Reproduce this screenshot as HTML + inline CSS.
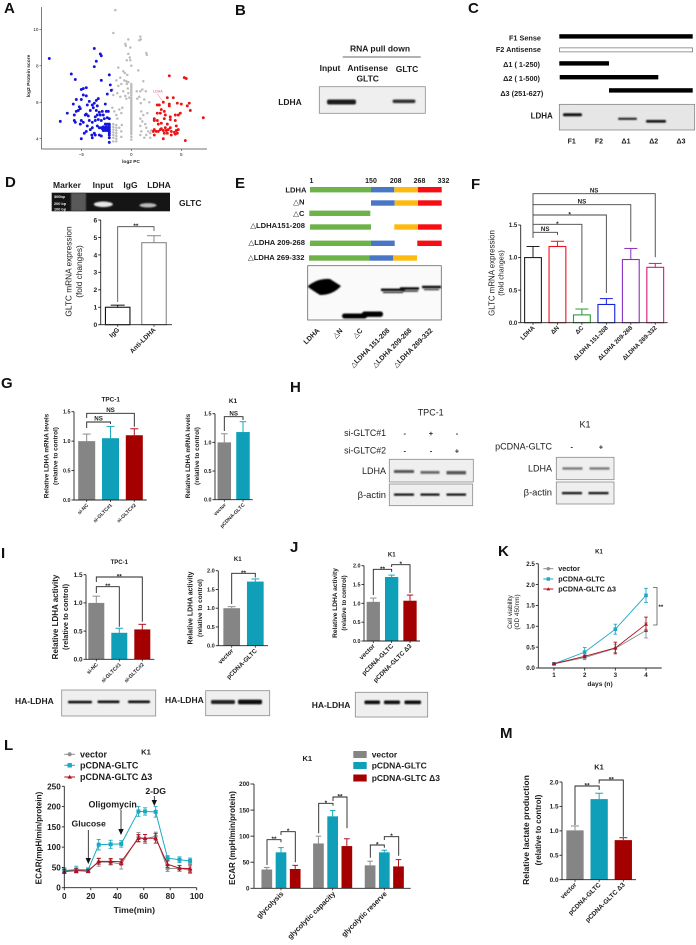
<!DOCTYPE html>
<html lang="en"><head><meta charset="utf-8"><title>GLTC LDHA multi-panel figure</title>
<style>
html,body{margin:0;padding:0;background:#fff}
svg{display:block;filter:blur(.38px)}
text{font-family:"Liberation Sans","DejaVu Sans",sans-serif;fill:#1c1c1c}
.b{font-weight:700}
.pl{font-weight:700;font-size:15px;fill:#111}
.m{text-anchor:middle}
.e{text-anchor:end}
.lab{font-size:8.5px;font-weight:700}
.bl{fill:#efefef;stroke:#8b8b8b;stroke-width:.8}
</style></head><body>
<svg id="figure" xmlns="http://www.w3.org/2000/svg" width="696" height="945" viewBox="0 0 696 945">
<defs>
<filter id="s1" x="-30%" y="-100%" width="160%" height="300%"><feGaussianBlur stdDeviation=".7"/></filter>
<filter id="s2" x="-30%" y="-100%" width="160%" height="300%"><feGaussianBlur stdDeviation="1.2"/></filter>
</defs>
<rect width="696" height="945" fill="#fff"/>

<!-- panel letters -->
<g>
<text class="pl" x="4" y="13">A</text>
<text class="pl" x="235" y="15">B</text>
<text class="pl" x="468" y="13">C</text>
<text class="pl" x="5" y="187">D</text>
<text class="pl" x="235" y="188">E</text>
<text class="pl" x="471" y="189">F</text>
<text class="pl" x="1" y="388">G</text>
<text class="pl" x="290" y="392">H</text>
<text class="pl" x="1" y="558">I</text>
<text class="pl" x="290" y="552">J</text>
<text class="pl" x="498" y="556">K</text>
<text class="pl" x="4" y="750">L</text>
<text class="pl" x="500" y="738">M</text>
</g>

<!-- A labels -->
<g>
<text class="b m" x="131" y="163" font-size="4.8">log2 PC</text>
<text class="b m" x="0" y="0" font-size="4.9" transform="translate(30 76) rotate(-90)">log2 Protein score</text>
<text x="153" y="92.5" font-size="3.6" style="fill:#e0506a">LDHA</text>
<line x1="157" y1="93.5" x2="163" y2="102" stroke="#e0506a" stroke-width=".4"/>
</g>

<!-- B -->
<g>
<text class="lab m" x="380" y="51.5">RNA pull down</text>
<line x1="342.7" x2="420.7" y1="57" y2="57" stroke="#333" stroke-width=".8"/>
<text class="lab m" x="330" y="71">Input</text>
<text class="lab m" x="367.7" y="71">Antisense</text>
<text class="lab m" x="367.7" y="81.5">GLTC</text>
<text class="lab m" x="407" y="72">GLTC</text>
<text class="lab m" x="290" y="105">LDHA</text>
<rect class="bl" x="319.3" y="86.7" width="106" height="26.6"/>
<rect x="327" y="99.5" width="29" height="5" rx="2" fill="#1a1a1a" filter="url(#s1)"/>
<rect x="392.5" y="99.5" width="23" height="3.6" rx="2" fill="#333" filter="url(#s1)"/>
</g>

<!-- C -->
<g>
<text class="b e" x="541" y="40.5" font-size="7.3">F1 Sense</text>
<text class="b e" x="541" y="52" font-size="7.3">F2 Antisense</text>
<text class="b e" x="540" y="67" font-size="7.3">Δ1 ( 1-250)</text>
<text class="b e" x="540" y="81" font-size="7.3">Δ2 ( 1-500)</text>
<text class="b e" x="543.3" y="96" font-size="7.3">Δ3 (251-627)</text>
<rect x="559.3" y="34.2" width="133.4" height="4.4" fill="#000"/>
<rect x="559.6" y="47.9" width="133" height="4" fill="#fff" stroke="#555" stroke-width=".6"/>
<rect x="559.3" y="61.2" width="49.7" height="4.4" fill="#000"/>
<rect x="559.7" y="75" width="98.6" height="4.4" fill="#000"/>
<rect x="609" y="88.2" width="83.7" height="4.4" fill="#000"/>
<text class="b m" x="541.7" y="118.5" font-size="8">LDHA</text>
<rect x="559.3" y="104.3" width="135.4" height="25.7" fill="#e6e6e6" stroke="#777" stroke-width=".7"/>
<rect x="563" y="113.3" width="19" height="3" rx="1.2" fill="#111" filter="url(#s1)"/>
<rect x="618" y="117.7" width="19" height="2.2" rx="1" fill="#222" filter="url(#s1)"/>
<rect x="646" y="120" width="20" height="2.6" rx="1" fill="#111" filter="url(#s1)"/>
<text class="b m" x="571.7" y="143.5" font-size="7">F1</text>
<text class="b m" x="599" y="143.5" font-size="7">F2</text>
<text class="b m" x="626" y="143.5" font-size="7">Δ1</text>
<text class="b m" x="653.7" y="143.5" font-size="7">Δ2</text>
<text class="b m" x="681" y="143.5" font-size="7">Δ3</text>
</g>

<!-- D gel and labels -->
<g>
<text class="lab m" x="67" y="188">Marker</text>
<text class="lab m" x="103" y="188">Input</text>
<text class="lab m" x="130.5" y="188">IgG</text>
<text class="lab m" x="159" y="188">LDHA</text>
<rect x="51.7" y="192.7" width="118.3" height="18.6" fill="#151515"/>
<rect x="71" y="193" width="15" height="18" fill="#777" filter="url(#s1)" opacity=".7"/>
<ellipse cx="103.3" cy="204.3" rx="9.5" ry="2.8" fill="#e8e8e8" filter="url(#s1)"/>
<ellipse cx="148" cy="205.3" rx="8.5" ry="2.2" fill="#bbb" filter="url(#s1)"/>
<text class="b" x="54" y="198" font-size="3.8" style="fill:#eee">300bp</text>
<text class="b" x="54" y="205" font-size="3.8" style="fill:#eee">200 bp</text>
<text class="b" x="54" y="210.5" font-size="3.8" style="fill:#eee">100 bp</text>
<text class="lab" x="179" y="206">GLTC</text>
<text class="m" x="0" y="0" font-size="8.3" transform="translate(71.5 271.5) rotate(-90)">GLTC mRNA expression</text>
<text class="m" x="0" y="0" font-size="8.3" transform="translate(82 271.5) rotate(-90)">(fold changes)</text>
</g>

<!-- E -->
<g>
<text class="b" x="309.5" y="183" font-size="7">1</text>
<text class="b m" x="371" y="183" font-size="7">150</text>
<text class="b m" x="395.7" y="183" font-size="7">208</text>
<text class="b m" x="419.5" y="183" font-size="7">268</text>
<text class="b m" x="443.5" y="183" font-size="7">332</text>
<text class="b e" x="306.5" y="192.5" font-size="7.6">LDHA</text>
<text class="b e" x="304.5" y="204.5" font-size="7.6">△N</text>
<text class="b e" x="304.5" y="216" font-size="7.6">△C</text>
<text class="b e" x="305" y="228" font-size="7.6">△LDHA151-208</text>
<text class="b e" x="305" y="245" font-size="7.6">△LDHA 209-268</text>
<text class="b e" x="304.5" y="260" font-size="7.6">△LDHA 269-332</text>
<g>
<rect x="310" y="187" width="61" height="5.4" fill="#6eb24a"/><rect x="371" y="187" width="23.3" height="5.4" fill="#4a76c6"/><rect x="394.3" y="187" width="23.7" height="5.4" fill="#fdbb12"/><rect x="418" y="187" width="23.7" height="5.4" fill="#f70d12"/>
<rect x="371" y="200.3" width="23.7" height="5.4" fill="#4a76c6"/><rect x="394.7" y="200.3" width="23.3" height="5.4" fill="#fdbb12"/><rect x="418" y="200.3" width="23.7" height="5.4" fill="#f70d12"/>
<rect x="309.3" y="210.6" width="61" height="5.4" fill="#6eb24a"/>
<rect x="310" y="224.3" width="61" height="5.4" fill="#6eb24a"/><rect x="394.3" y="224.3" width="23.7" height="5.4" fill="#fdbb12"/><rect x="418" y="224.3" width="23.7" height="5.4" fill="#f70d12"/>
<rect x="310" y="240.6" width="61" height="5.4" fill="#6eb24a"/><rect x="371" y="240.6" width="23.7" height="5.4" fill="#4a76c6"/><rect x="417.3" y="240.6" width="24.4" height="5.4" fill="#f70d12"/>
<rect x="309" y="255.3" width="60.3" height="5.4" fill="#6eb24a"/><rect x="369.3" y="255.3" width="24" height="5.4" fill="#4a76c6"/><rect x="393.3" y="255.3" width="23.7" height="5.4" fill="#fdbb12"/>
</g>
<rect x="307.7" y="265.7" width="133.6" height="54.3" fill="#fafafa" stroke="#666" stroke-width=".8"/>
<path d="M308 286 Q318 278 330 279 L341 286 Q333 295 320 295 Q312 290 308 287Z" fill="#000" filter="url(#s1)"/>
<rect x="342" y="313.5" width="25" height="5" rx="2.5" fill="#000" filter="url(#s1)"/>
<rect x="362" y="311.5" width="21" height="5.4" rx="2.5" fill="#000" filter="url(#s1)"/>
<rect x="381" y="288.6" width="24" height="2.4" fill="#000" filter="url(#s1)"/>
<rect x="383" y="291.5" width="20" height="1.6" fill="#333" filter="url(#s1)"/>
<rect x="400" y="287.3" width="19" height="2.4" fill="#000" filter="url(#s1)"/>
<rect x="402" y="290.2" width="16" height="1.6" fill="#333" filter="url(#s1)"/>
<rect x="422" y="285.8" width="19" height="2.4" fill="#000" filter="url(#s1)"/>
<rect x="424" y="288.8" width="15" height="1.4" fill="#333" filter="url(#s1)"/>
<text class="b e" x="0" y="0" font-size="7" transform="translate(320 331) rotate(-45)">LDHA</text>
<text class="b e" x="0" y="0" font-size="7" transform="translate(343 331) rotate(-45)">△N</text>
<text class="b e" x="0" y="0" font-size="7" transform="translate(363 331) rotate(-45)">△C</text>
<text class="b e" x="0" y="0" font-size="7" transform="translate(390 331) rotate(-45)">△LDHA 151-208</text>
<text class="b e" x="0" y="0" font-size="7" transform="translate(412 331) rotate(-45)">△LDHA 209-268</text>
<text class="b e" x="0" y="0" font-size="7" transform="translate(433 331) rotate(-45)">△LDHA 269-332</text>
</g>

<!-- axis titles for bar panels -->
<g>
<text class="m" x="0" y="0" font-size="7.9" transform="translate(494.5 273) rotate(-90)">GLTC mRNA expression</text>
<text class="m" x="0" y="0" font-size="7.2" transform="translate(503.5 273) rotate(-90)">(fold changes)</text>
<text class="b m" x="0" y="0" font-size="6.4" transform="translate(48.5 456) rotate(-90)">Relative LDHA mRNA levels</text>
<text class="b m" x="0" y="0" font-size="6.4" transform="translate(57.5 456) rotate(-90)">(relative to control)</text>
<text class="b m" x="0" y="0" font-size="6.4" transform="translate(190 456) rotate(-90)">Relative LDHA mRNA levels</text>
<text class="b m" x="0" y="0" font-size="6.4" transform="translate(199 456) rotate(-90)">(relative to control)</text>
<text class="m" x="0" y="0" font-size="8" font-weight="700" transform="translate(58 617) rotate(-90)">Relative LDHA activity</text>
<text class="m" x="0" y="0" font-size="7.3" font-weight="700" transform="translate(68 617) rotate(-90)">(relative to control)</text>
<text class="b m" x="0" y="0" font-size="6.9" transform="translate(192.5 608) rotate(-90)">Relative LDHA activity</text>
<text class="b m" x="0" y="0" font-size="6.4" transform="translate(202 608) rotate(-90)">(relative to control)</text>
<text class="b m" x="0" y="0" font-size="6.6" transform="translate(337 603) rotate(-90)">Relative LDHA activity</text>
<text class="b m" x="0" y="0" font-size="6.1" transform="translate(346 603) rotate(-90)">(relative to control)</text>
<text class="m" x="0" y="0" font-size="6.4" transform="translate(512 612) rotate(-90)">Cell viability</text>
<text class="m" x="0" y="0" font-size="6.4" transform="translate(519 612) rotate(-90)">(OD 450nm)</text>
<text class="b m" x="600" y="686" font-size="6.6">days (n)</text>
<text class="b m" x="0" y="0" font-size="8.1" transform="translate(41.5 838) rotate(-90)">ECAR(mpH/min/protein)</text>
<text class="b m" x="134.3" y="913" font-size="8.7">Time(min)</text>
<text class="b m" x="0" y="0" font-size="8" transform="translate(235 838) rotate(-90)">ECAR (mpH/min/protein)</text>
<text class="b m" x="0" y="0" font-size="8.6" transform="translate(529 830) rotate(-90)">Relative lactate production</text>
<text class="b m" x="0" y="0" font-size="7.8" transform="translate(541 830) rotate(-90)">(relative to control)</text>
</g>

<!-- chart titles -->
<g>
<text class="b m" x="110.7" y="401.5" font-size="6.4">TPC-1</text>
<text class="b m" x="233" y="403" font-size="6.4">K1</text>
<text class="b m" x="119.3" y="564" font-size="6">TPC-1</text>
<text class="b m" x="237.7" y="561" font-size="6">K1</text>
<text class="b m" x="391.7" y="556.5" font-size="6">K1</text>
<text class="b m" x="599" y="553.5" font-size="6">K1</text>
<text class="b m" x="146" y="754.5" font-size="7.6">K1</text>
<text class="b m" x="307.3" y="761" font-size="7.6">K1</text>
<text class="b m" x="599" y="769.5" font-size="7.4">K1</text>
</g>

<!-- H -->
<g>
<text class="m" x="430.7" y="415.5" font-size="9">TPC-1</text>
<text class="e" x="386" y="436" font-size="8.8">si-GLTC#1</text>
<text class="e" x="386" y="453.5" font-size="8.8">si-GLTC#2</text>
<text class="m b" x="404.7" y="436" font-size="7.5">-</text><text class="m b" x="431" y="436" font-size="7.5">+</text><text class="m b" x="457" y="436" font-size="7.5">-</text>
<text class="m b" x="404.7" y="453.5" font-size="7.5">-</text><text class="m b" x="431" y="453.5" font-size="7.5">-</text><text class="m b" x="457" y="453.5" font-size="7.5">+</text>
<text class="e" x="386" y="474" font-size="9">LDHA</text>
<text class="e" x="386" y="498" font-size="9.4">β-actin</text>
<rect class="bl" x="389.3" y="459.3" width="84" height="22.7"/>
<rect class="bl" x="389.3" y="484" width="83.4" height="21.7"/>
<rect x="394" y="470" width="20" height="3" fill="#555" filter="url(#s1)"/><rect x="420.5" y="471" width="19" height="2.8" fill="#666" filter="url(#s1)"/><rect x="446.5" y="471" width="19.5" height="3.4" fill="#555" filter="url(#s1)"/>
<rect x="394" y="493.5" width="20" height="2.2" fill="#111" filter="url(#s1)"/><rect x="420.5" y="493.5" width="19" height="2.2" fill="#111" filter="url(#s1)"/><rect x="446.5" y="493.5" width="19.5" height="2.2" fill="#111" filter="url(#s1)"/>
<text class="m" x="585" y="427.5" font-size="9">K1</text>
<text class="e" x="552" y="449.5" font-size="9">pCDNA-GLTC</text>
<text class="m b" x="571.7" y="449.5" font-size="7.5">-</text><text class="m b" x="601" y="449.5" font-size="7.5">+</text>
<text class="e" x="552" y="471.5" font-size="9">LDHA</text>
<text class="e" x="552" y="495.5" font-size="9.4">β-actin</text>
<rect class="bl" x="556.3" y="457.3" width="57.7" height="22.4"/>
<rect class="bl" x="556.3" y="482" width="57.7" height="22"/>
<rect x="562.5" y="467.3" width="20" height="2.4" fill="#777" filter="url(#s1)"/><rect x="589.5" y="467.3" width="20" height="2.4" fill="#777" filter="url(#s1)"/>
<rect x="562" y="492" width="20" height="2.2" fill="#111" filter="url(#s1)"/><rect x="588.5" y="492" width="20" height="2.2" fill="#111" filter="url(#s1)"/>
</g>

<!-- HA-LDHA blots -->
<g>
<text class="lab" x="15" y="704">HA-LDHA</text>
<rect class="bl" x="61.7" y="690" width="94" height="26"/>
<rect x="68" y="700.8" width="24" height="2.6" rx="1" fill="#111" filter="url(#s1)"/><rect x="97.5" y="700.5" width="22" height="2.6" rx="1" fill="#111" filter="url(#s1)"/><rect x="128" y="700.5" width="22" height="2.6" rx="1" fill="#111" filter="url(#s1)"/>
<text class="lab" x="165" y="703">HA-LDHA</text>
<rect class="bl" x="205.7" y="690.7" width="64" height="25"/>
<rect x="211" y="700" width="24" height="4" rx="1.5" fill="#222" filter="url(#s1)"/><rect x="238" y="699.6" width="24" height="4.6" rx="1.5" fill="#0a0a0a" filter="url(#s1)"/>
<text class="lab" x="311.7" y="708">HA-LDHA</text>
<rect class="bl" x="355.3" y="692.3" width="72.4" height="24.7"/>
<rect x="364.5" y="700.5" width="15.5" height="3.6" rx="1" fill="#0c0c0c" filter="url(#s1)"/><rect x="384" y="700.5" width="16" height="3.6" rx="1" fill="#0c0c0c" filter="url(#s1)"/><rect x="404.5" y="700.5" width="16.5" height="3.6" rx="1" fill="#0c0c0c" filter="url(#s1)"/>
</g>

<!-- K legend -->
<g>
<g><line x1="543.3" x2="553.3" y1="568.7" y2="568.7" stroke="#8e8e8e" stroke-width="1"/><circle cx="548.3" cy="568.7" r="1.7" fill="#8e8e8e"/><text class="b" x="558.3" y="571" font-size="7.2">vector</text></g>
<g><line x1="543.3" x2="553.3" y1="579" y2="579" stroke="#1ba9c2" stroke-width="1"/><rect x="546.6" y="577.3" width="3.4" height="3.4" fill="#1ba9c2"/><text class="b" x="558.3" y="581.5" font-size="7.2">pCDNA-GLTC</text></g>
<g><line x1="543.3" x2="553.3" y1="589" y2="589" stroke="#b01020" stroke-width="1"/><polygon points="548.3,587.2 550.2,590.4 546.4,590.4" fill="#b01020"/><text class="b" x="558.3" y="591.5" font-size="7.2">pCDNA-GLTC Δ3</text></g>
<path d="M653 587.5H657V625H653" fill="none" stroke="#555" stroke-width=".8"/>
<text class="b" x="658.5" y="609" font-size="6">**</text>
</g>

<!-- L legend and arrows -->
<g>
<g><line x1="64.3" x2="75" y1="754.3" y2="754.3" stroke="#8e8e8e" stroke-width="1"/><circle cx="69.7" cy="754.3" r="2" fill="#8e8e8e"/><text class="b" x="80" y="757.5" font-size="9">vector</text></g>
<g><line x1="64.3" x2="75" y1="765.3" y2="765.3" stroke="#1ba9c2" stroke-width="1"/><rect x="67.5" y="763.1" width="4.4" height="4.4" fill="#1ba9c2"/><text class="b" x="80" y="768.5" font-size="9">pCDNA-GLTC</text></g>
<g><line x1="64.3" x2="75" y1="777" y2="777" stroke="#b01020" stroke-width="1"/><polygon points="69.7,774.8 72,778.6 67.4,778.6" fill="#b01020"/><text class="b" x="80" y="780" font-size="9">pCDNA-GLTC Δ3</text></g>
</g>
<g>
<text class="b m" x="88.7" y="826.5" font-size="8.7">Glucose</text>
<text class="b m" x="112.7" y="807.5" font-size="8.9">Oligomycin</text>
<text class="b m" x="155.7" y="794" font-size="8.7">2-DG</text>
<g><line x1="88.3" x2="88.3" y1="830" y2="859" stroke="#111" stroke-width=".8"/><polygon points="85.6,858 91,858 88.3,864" fill="#111"/></g>
<g><line x1="121" x2="121" y1="810" y2="830" stroke="#111" stroke-width=".8"/><polygon points="118.3,829 123.7,829 121,835" fill="#111"/></g>
<g><line x1="154.3" x2="154.3" y1="796" y2="801" stroke="#111" stroke-width=".8"/><polygon points="151.6,800 157,800 154.3,806" fill="#111"/></g>
</g>

<!-- L2 legend -->
<g>
<g><rect x="353.3" y="751" width="13.4" height="7" fill="#858585"/><text class="b" x="371.7" y="757.5" font-size="8.5">vector</text></g>
<g><rect x="353.3" y="762" width="13.4" height="7" fill="#0f9fb8"/><text class="b" x="371.7" y="768.5" font-size="8.5">pCDNA-GLTC</text></g>
<g><rect x="353.3" y="774.5" width="13.4" height="7" fill="#a50000"/><text class="b" x="371.7" y="781" font-size="8.5">pCDNA-GLTC Δ3</text></g>
</g>

<g id="charts"></g>
</svg>
<script>
// ---------- Chart data ----------
const volcanoXTicks = [-5, 0, 5];
const volcanoYTicks = [4, 6, 8, 10];
const volcanoDown = [[-8.2,8.4],[-3.7,8.95],[-3.1,8.65],[-3,8.55],[-3.5,8.25],[-3.7,7.95],[-6,7.55],[-5.6,7.25],[-3,7.2],[-2.2,7.5],[-2.1,6.95],[-2,6.65],[-5,6.7],[-4.8,6.75],[-4.5,6.8],[-2.4,6.45],[-4.8,6.4],[-4.5,6.35],[-5,6.15],[-5.5,6.15],[-4.2,6.05],[-3.5,6.1],[-3.3,6.2],[-3.7,5.95],[-3.9,5.85],[-3.4,5.8],[-2.6,5.9],[-5.8,5.9],[-5.2,5.75],[-5.1,5.65],[-5.3,5.55],[-4.4,5.85],[-4.1,5.55],[-3.8,5.7],[-3.5,5.55],[-3.2,5.45],[-2.9,5.5],[-2.5,5.5],[-2.3,5.5],[-2.8,5.3],[-3.1,5.3],[-3.4,5.3],[-3.6,5.2],[-4.5,5.35],[-4.3,5.25],[-4.6,5.3],[-5.5,5.5],[-5.7,5.3],[-6.4,5.4],[-7.1,4.95],[-5.7,5],[-5.6,4.9],[-5,5],[-5.1,4.8],[-4.8,4.9],[-4.2,5],[-3.9,4.9],[-3.6,5],[-3.3,5.05],[-3,5],[-2.7,5.1],[-2.4,5.15],[-2.2,5.1],[-3.4,4.7],[-3.2,4.6],[-3,4.6],[-2.9,4.55],[-2.8,4.65],[-2.7,4.6],[-2.6,4.55],[-2.5,4.65],[-2.4,4.6],[-2.3,4.55],[-2.2,4.6],[-2.2,4.8],[-2.2,4.7],[-2.2,4.5],[-2.2,4.4],[-2.2,4.3],[-2.2,4.2],[-2.2,4.05],[-2.2,3.8],[-2.6,4.45],[-2.4,4.45],[-2.8,4.45],[-2.4,4.8],[-2.6,4.8],[-3.6,4.2],[-3.9,4.6],[-4.1,4.5],[-4.4,4.7],[-4.7,4.3],[-5,4],[-3.9,4.05],[-3.95,4.2],[-3.7,4.3],[-3.2,4.2],[-3,4.15],[-4.5,4.4]];
const volcanoNeutral = [[-1.6,11.05],[-1.8,9.8],[0.9,9.6],[0.95,9.45],[0.8,9.4],[-0.3,9.45],[-0.6,9.2],[-0.55,9.1],[-0.1,9],[1.5,8.7],[1.55,8.6],[-0.3,8.65],[-0.15,8.45],[-0.45,8.3],[-0.1,8.3],[0,8],[-1.3,7.9],[0.7,7.75],[-0.8,7.7],[-0.65,7.6],[-0.4,7.5],[-1.1,7.35],[-1.5,7.2],[-0.7,7.2],[-0.5,7.15],[-0.3,7.1],[-0.45,7],[1.2,7.15],[-1.9,6.7],[-1.3,6.9],[-1,7],[-1.8,6.4],[-1.4,6.5],[-1.1,6.3],[-0.8,6.6],[-0.6,6.35],[-0.5,6.2],[-0.3,6.5],[-0.35,6.75],[-0.2,6.25],[0.55,6.6],[0.8,6.3],[0.6,6.2],[1.1,6.7],[1.3,6.15],[1.45,6.6],[0.95,5.95],[1.8,6],[-1.9,5.7],[-1.7,5.5],[-1.5,5.3],[-1.2,5.6],[-1,5.4],[-0.9,5.7],[-1.4,5.1],[1,5.5],[1.2,5.3],[0.9,5.1],[1.1,4.95],[1.6,5.4],[1.4,4.8],[0.9,4.7],[1.5,4.6],[1.7,4.4],[1.9,4.3],[2,4.45],[1.5,4.2],[1,4.4],[0.9,4.2],[1.3,4.05],[1.9,4.05],[-1.8,4.8],[-1.8,4.65],[-1.8,4.5],[-1.8,4.35],[-1.8,4.2],[-1.8,4.05],[-1.8,3.85],[-1.5,4.75],[-1.5,4.6],[-1.5,4.45],[-1.5,4.3],[-1.5,4.15],[-1.5,4],[-1.5,3.85],[-1.2,4.6],[-1,4.4],[-0.95,4.75],[-1,4.1],[0,7],[0,6.9],[0,6.8],[0,6.7],[0,6.6],[0,6.5],[0,6.38],[0,6.25],[0,6.15],[0,6.05],[0,5.95],[0,5.85],[0,5.75],[0,5.65],[0,5.55],[0,5.45],[0,5.35],[0,5.25],[0,5.15],[0,5.05],[0,4.95],[0,4.85],[0,4.75],[0,4.65],[0,4.55],[0,4.45],[0,4.35],[0,4.25],[0,4.1],[0,3.95],[0.9,6.6]];
const volcanoUp = [[3.8,7.45],[5.3,7.35],[5.5,7.3],[3.2,6],[3.6,6.25],[4.2,6.25],[4.6,5.95],[5,5.9],[3.8,5.9],[3.8,5.8],[2.6,5.85],[2.8,5.85],[5.8,5.95],[5.6,5.8],[5.9,5.55],[3,5.6],[3.3,5.5],[2.6,5.4],[2.9,5.4],[3.4,5.3],[2.3,5.1],[2.3,5],[2.6,5],[2.7,4.8],[3,4.85],[3.3,5.1],[3.6,4.8],[3.9,5.2],[3.9,5.05],[4.4,5],[4.5,4.7],[4.7,5.3],[4.9,5.4],[4.4,5.3],[7.2,5.15],[5.4,3.9],[3.2,4],[4,4.2],[4.4,4.25],[2.3,4.2],[2.2,4.4],[2.3,4.5],[2.5,4.4],[2.7,4.4],[2.9,4.5],[3,4.55],[3.2,4.45],[3.4,4.6],[3.5,4.45],[3.7,4.5],[3.9,4.6],[4,4.4],[4.3,4.35],[4.5,4.45],[4.7,4.5],[4.6,4.3],[3.6,4.3],[3.3,4.3]];

const dCats = ['IgG','Anti-LDHA'];
const dVals = [1, 4.7];
const dErrs = [0.12, 0.4];
const dTicks = [0,1,2,3,4,5,6];

const fCats = ['LDHA','ΔN','ΔC','ΔLDHA 151-208','ΔLDHA 209-268','ΔLDHA 269-332'];
const fVals = [1, 1.17, 0.12, 0.28, 0.97, 0.85];
const fErrs = [0.17, 0.08, 0.09, 0.09, 0.17, 0.06];
const fTicks = [0, 0.5, 1, 1.5];

const g1Cats = ['si-NC','si-GLTC#1','si-GLTC#2'];
const g1Vals = [1, 1.05, 1.1];
const g1Errs = [0.12, 0.2, 0.11];
const ratioTicks = [0, 0.5, 1, 1.5];
const g2Cats = ['vector','pCDNA-GLTC'];
const g2Vals = [1, 1.18];
const g2Errs = [0.15, 0.18];

const i1Cats = ['si-NC','si-GLTC#1','si-GLTC#2'];
const i1Vals = [1, 0.47, 0.53];
const i1Errs = [0.12, 0.08, 0.09];
const i2Cats = ['vector','pCDNA-GLTC'];
const i2Vals = [1, 1.71];
const i2Errs = [0.04, 0.07];
const twoTicks = [0, 0.5, 1, 1.5, 2];

const jCats = ['vector','pCDNA-GLTC','pCDNA-GLTC Δ3'];
const jVals = [1.04, 1.7, 1.07];
const jErrs = [0.1, 0.05, 0.15];

const mCats = ['vector','pCDNA-GLTC','pCDNA-GLTC Δ3'];
const mVals = [1.01, 1.65, 0.81];
const mErrs = [0.09, 0.12, 0.05];

const kDays = [1, 2, 3, 4];
const kYTicks = [0, 0.5, 1, 1.5, 2, 2.5];
const kVector = [0.1, 0.25, 0.47, 0.9];
const kVectorErr = [0.02, 0.05, 0.1, 0.18];
const kPcdna = [0.1, 0.38, 0.93, 1.74];
const kPcdnaErr = [0.02, 0.11, 0.12, 0.17];
const kDelta = [0.1, 0.28, 0.48, 1.05];
const kDeltaErr = [0.02, 0.03, 0.14, 0.17];

const lTimes = [0, 9, 18, 26, 35, 43, 56, 61, 69, 78, 87, 95];
const lXTicks = [0, 20, 40, 60, 80, 100];
const lYTicks = [0, 50, 100, 150, 200, 250];
const lVector = [42, 42, 43, 63, 63, 58, 125, 120, 127, 47, 48, 43];
const lVectorErr = [6, 5, 5, 10, 7, 12, 11, 11, 10, 7, 7, 8];
const lPcdna = [42, 45, 44, 106, 107, 108, 188, 188, 187, 73, 69, 66];
const lPcdnaErr = [7, 8, 5, 13, 10, 8, 12, 9, 13, 6, 7, 7];
const lDelta = [40, 42, 41, 65, 65, 64, 122, 122, 122, 58, 48, 47];
const lDeltaErr = [5, 5, 4, 7, 7, 7, 9, 9, 12, 8, 7, 9];

const ecarCats = ['glycolysis','glycolytic capacity','glycolytic reserve'];
const ecarYTicks = [0, 50, 100, 150, 200];
const ecarVector = [36, 86, 44];
const ecarVectorErr = [4, 14, 8];
const ecarPcdna = [69, 138, 69];
const ecarPcdnaErr = [9, 11, 4];
const ecarDelta = [37, 81, 42];
const ecarDeltaErr = [7, 14, 13];

// ---------- Drawing helpers ----------
const NS = 'http://www.w3.org/2000/svg';
const root = document.getElementById('charts');
const GRAY = '#858585', TEAL = '#0f9fb8', DRED = '#a50000';
const LGRAY = '#8e8e8e', LTEAL = '#1ba9c2', LRED = '#b01020';

function make(tag, attrs, parent, txt) {
  const n = document.createElementNS(NS, tag);
  for (const k in attrs) n.setAttribute(k, attrs[k]);
  if (txt !== undefined) n.textContent = txt;
  parent.appendChild(n);
  return n;
}
function drawGroup(name) {
  const g = make('g', {}, root);
  
  
  return g;
}
function drawLine(g, name, x1, y1, x2, y2, color, w) {
  const l = make('line', {x1, y1, x2, y2, stroke: color, 'stroke-width': w}, g);
  
  
  return l;
}
function drawText(g, name, x, y, str, size, anchor, bold, rot) {
  const a = {x: 0, y: 0, 'font-size': size, 'text-anchor': anchor, transform: 'translate(' + x + ' ' + y + ')' + (rot ? ' rotate(' + rot + ')' : '')};
  if (bold) a['font-weight'] = 700;
  const t = make('text', a, g, str);
  
  
  return t;
}
function linScale(d0, d1, r0, r1) {
  return v => r0 + (v - d0) / (d1 - d0) * (r1 - r0);
}
function drawYAxis(g, ax, ticks, labels, y, opts) {
  drawLine(g, 'y-axis-line', ax, y(ticks[0]), ax, y(ticks[ticks.length - 1]), opts.axisColor || '#222', opts.axisW || 0.9);
  ticks.forEach((v, i) => {
    drawLine(g, 'y-tick', ax - (opts.tl || 2.5), y(v), ax, y(v), opts.axisColor || '#222', opts.axisW || 0.9);
    drawText(g, 'y-tick-label', ax - (opts.tl || 2.5) - 1, y(v) + opts.size * 0.36, labels[i], opts.size, 'end', true);
  });
}
function drawBracket(g, b, X) {
  const c = b.color || '#222';
  const p = make('path', {d: 'M' + X(b.a) + ' ' + b.l + 'V' + b.top + 'H' + X(b.b) + 'V' + b.r, fill: 'none', stroke: c, 'stroke-width': b.w || 0.9}, g);
  
  
  const mid = (X(b.a) + X(b.b)) / 2;
  const star = b.t.indexOf('*') >= 0;
  drawText(g, 'significance-label', mid, star ? b.top + 1.5 : b.top - 1.3, b.t, star ? 6.5 : 6.2, 'middle', true);
}
function drawBarChart(c) {
  const g = drawGroup(c.name);
  const y = linScale(0, c.max, c.y0, c.yTop);
  const X = i => c.first + i * c.step;
  c.vals.forEach((v, i) => {
    const col = c.colors[i], lc = (c.errColors || c.colors)[i];
    const top = y(v);
    const eT = y(v + c.errs[i]);
    drawLine(g, 'error-bar', X(i), top, X(i), eT, lc, 1);
    drawLine(g, 'error-cap', X(i) - c.cap, eT, X(i) + c.cap, eT, lc, 1);
    const attrs = c.open
      ? {x: X(i) - c.w / 2, y: top, width: c.w, height: c.y0 - top, fill: '#fff', stroke: col, 'stroke-width': 1.1}
      : {x: X(i) - c.w / 2, y: top, width: c.w, height: c.y0 - top, fill: col};
    const r = make('rect', attrs, g);
    
    
    drawLine(g, 'x-tick', X(i), c.y0, X(i), c.y0 + 2, '#222', 0.8);
    drawText(g, 'x-tick-label', X(i) + 2, c.y0 + 5.5, c.cats[i], c.catSize, 'end', true, -45);
  });
  drawLine(g, 'x-axis-line', c.ax, c.y0, c.axEnd, c.y0, '#222', 0.9);
  drawYAxis(g, c.ax, c.ticks, c.tickLabels, y, {size: c.tickSize});
  (c.brackets || []).forEach(b => drawBracket(g, b, X));
}
function drawMarker(g, kind, x, y, size, color) {
  let m;
  if (kind === 'circle') m = make('circle', {cx: x, cy: y, r: size, fill: color}, g);
  else if (kind === 'square') m = make('rect', {x: x - size, y: y - size, width: 2 * size, height: 2 * size, fill: color}, g);
  else m = make('polygon', {points: x + ',' + (y - size * 1.1) + ' ' + (x + size * 1.15) + ',' + (y + size * 0.85) + ' ' + (x - size * 1.15) + ',' + (y + size * 0.85), fill: color}, g);
  
  
}
function drawLineChart(c) {
  const g = drawGroup(c.name);
  const X = linScale(c.xDom[0], c.xDom[1], c.xRange[0], c.xRange[1]);
  const Y = linScale(0, c.max, c.y0, c.yTop);
  c.series.forEach(s => {
    const sg = make('g', {}, g);
    
    
    const pl = make('polyline', {points: s.vals.map((v, i) => X(c.xs[i]) + ',' + Y(v)).join(' '), fill: 'none', stroke: s.color, 'stroke-width': c.lw}, sg);
    
    
    s.vals.forEach((v, i) => {
      const x = X(c.xs[i]);
      const t = Y(v + s.errs[i]), b = Y(v - s.errs[i]);
      drawLine(sg, 'error-bar', x, t, x, b, s.color, 0.9);
      drawLine(sg, 'error-cap', x - c.cap, t, x + c.cap, t, s.color, 0.9);
      drawLine(sg, 'error-cap', x - c.cap, b, x + c.cap, b, s.color, 0.9);
      drawMarker(sg, s.marker, x, Y(v), c.ms, s.color);
    });
  });
  drawLine(g, 'x-axis-line', c.ax, c.y0, c.axEnd, c.y0, '#222', 0.9);
  c.xTicks.forEach(v => {
    drawLine(g, 'x-tick', X(v), c.y0, X(v), c.y0 + 2.5, '#222', 0.9);
    drawText(g, 'x-tick-label', X(v), c.y0 + c.tickSize + 3, String(v), c.tickSize, 'middle', true);
  });
  drawYAxis(g, c.ax, c.yTicks, c.yTickLabels, Y, {size: c.tickSize});
}

// ---------- Panel A volcano ----------
(function () {
  const g = drawGroup('volcano-plot');
  const X = linScale(-5, 5, 81.3, 181.3);
  const Y = linScale(4, 10, 138.7, 29.3);
  function pts(arr, color, name, r) {
    arr.forEach(p => {
      const c = make('circle', {cx: X(p[0]), cy: Y(p[1]), r: r, fill: color}, g);
      
      
    });
  }
  pts(volcanoNeutral, '#bdbdbd', 'neutral-point', 1.25);
  pts(volcanoDown, '#1414e0', 'down-point', 1.45);
  pts(volcanoUp, '#ee1212', 'up-point', 1.45);
  drawLine(g, 'y-axis-line', 41.5, 7, 41.5, 149, '#444', 0.7);
  drawLine(g, 'x-axis-line', 41.5, 149, 207, 149, '#444', 0.7);
  volcanoYTicks.forEach(v => {
    drawLine(g, 'y-tick', 39.5, Y(v), 41.5, Y(v), '#444', 0.6);
    drawText(g, 'y-tick-label', 38.5, Y(v) + 1.6, String(v), 4.6, 'end', false);
  });
  volcanoXTicks.forEach(v => {
    drawLine(g, 'x-tick', X(v), 149, X(v), 151, '#444', 0.6);
    drawText(g, 'x-tick-label', X(v), 156, String(v).replace('-', '−'), 4.6, 'middle', false);
  });
})();

// ---------- Bar charts ----------
drawBarChart({name: 'panel-d-chart', vals: dVals, errs: dErrs, cats: dCats, ticks: dTicks, tickLabels: ['0','1','2','3','4','5','6'],
  ax: 100.7, axEnd: 172, y0: 324.7, yTop: 220, max: 6, first: 117.7, step: 36.3, w: 24.5, cap: 7, open: true, colors: ['#111', '#888'], errColors: ['#111', '#888'], catSize: 6.6, tickSize: 6.6,
  brackets: [{a: 0, b: 1, top: 226.7, l: 302, r: 231, t: '**', color: '#444', w: 0.8}]});
drawBarChart({name: 'panel-f-chart', vals: fVals, errs: fErrs, cats: fCats, ticks: fTicks, tickLabels: ['0.0','0.5','1.0','1.5'],
  ax: 520.7, axEnd: 667.7, y0: 322.7, yTop: 225, max: 1.5, first: 533, step: 24.45, w: 16.8, cap: 6.5, open: true, colors: ['#222', '#f01020', '#2f9a3a', '#1420e0', '#8a2fc0', '#d6187f'], catSize: 6.2, tickSize: 6,
  brackets: [
    {a: 0, b: 1, top: 232.3, l: 238, r: 235, t: 'NS', color: '#444'},
    {a: 0, b: 2, top: 224.3, l: 232, r: 302.7, t: '*', color: '#444'},
    {a: 0, b: 3, top: 215, l: 224, r: 293, t: '*', color: '#444'},
    {a: 0, b: 4, top: 204.7, l: 215, r: 241.7, t: 'NS', color: '#444'},
    {a: 0, b: 5, top: 193.7, l: 205, r: 257.3, t: 'NS', color: '#444'}]});
drawBarChart({name: 'panel-g-tpc1-chart', vals: g1Vals, errs: g1Errs, cats: g1Cats, ticks: ratioTicks, tickLabels: ['0.0','0.5','1.0','1.5'],
  ax: 74, axEnd: 146.7, y0: 500, yTop: 411.7, max: 1.5, first: 86.7, step: 23.8, w: 17, cap: 4, colors: [GRAY, TEAL, DRED], errColors: [LGRAY, LTEAL, LRED], catSize: 5, tickSize: 5.4,
  brackets: [{a: 0, b: 1, top: 422, l: 428, r: 424, t: 'NS'}, {a: 0, b: 2, top: 413.3, l: 418, r: 426.7, t: 'NS'}]});
drawBarChart({name: 'panel-g-k1-chart', vals: g2Vals, errs: g2Errs, cats: g2Cats, ticks: ratioTicks, tickLabels: ['0.0','0.5','1.0','1.5'],
  ax: 215, axEnd: 252.7, y0: 499.7, yTop: 413.7, max: 1.5, first: 224.3, step: 18.7, w: 13.5, cap: 3.3, colors: [GRAY, TEAL], errColors: [LGRAY, LTEAL], catSize: 5, tickSize: 5.4,
  brackets: [{a: 0, b: 1, top: 416.7, l: 431, r: 420, t: 'NS'}]});
drawBarChart({name: 'panel-i-tpc1-chart', vals: i1Vals, errs: i1Errs, cats: i1Cats, ticks: ratioTicks, tickLabels: ['0.0','0.5','1.0','1.5'],
  ax: 86, axEnd: 154.3, y0: 659.3, yTop: 574.7, max: 1.5, first: 96.3, step: 23, w: 16, cap: 3.8, colors: [GRAY, TEAL, DRED], errColors: [LGRAY, LTEAL, LRED], catSize: 5.2, tickSize: 6.4,
  brackets: [{a: 0, b: 1, top: 586.7, l: 593, r: 626.7, t: '**'}, {a: 0, b: 2, top: 577, l: 582, r: 621.7, t: '**'}]});
drawBarChart({name: 'panel-i-k1-chart', vals: i2Vals, errs: i2Errs, cats: i2Cats, ticks: twoTicks, tickLabels: ['0.0','0.5','1.0','1.5','2.0'],
  ax: 218.3, axEnd: 268, y0: 645.7, yTop: 570.7, max: 2, first: 231.7, step: 23.6, w: 16.7, cap: 4, colors: [GRAY, TEAL], errColors: [LGRAY, LTEAL], catSize: 6.2, tickSize: 5.6,
  brackets: [{a: 0, b: 1, top: 573.3, l: 604, r: 577.5, t: '**'}]});
drawBarChart({name: 'panel-j-chart', vals: jVals, errs: jErrs, cats: jCats, ticks: twoTicks, tickLabels: ['0.0','0.5','1.0','1.5','2.0'],
  ax: 364, axEnd: 420, y0: 641, yTop: 565.7, max: 2, first: 373.3, step: 18.35, w: 13.3, cap: 3.2, colors: [GRAY, TEAL, DRED], errColors: [LGRAY, LTEAL, LRED], catSize: 6.4, tickSize: 5.4,
  brackets: [{a: 0, b: 1, top: 569.3, l: 595, r: 572, t: '**'}, {a: 1, b: 2, top: 564.7, l: 567, r: 593, t: '*'}]});
drawBarChart({name: 'panel-m-chart', vals: mVals, errs: mErrs, cats: mCats, ticks: twoTicks, tickLabels: ['0.0','0.5','1.0','1.5','2.0'],
  ax: 562, axEnd: 636, y0: 879.7, yTop: 782, max: 2, first: 575, step: 24.15, w: 17.3, cap: 4, colors: [GRAY, TEAL, DRED], errColors: [LGRAY, LTEAL, LRED], catSize: 6.6, tickSize: 6.4,
  brackets: [{a: 0, b: 1, top: 786, l: 825, r: 790, t: '**'}, {a: 1, b: 2, top: 780, l: 783.5, r: 836.7, t: '**'}]});

// ---------- Line charts ----------
drawLineChart({name: 'panel-k-chart', xs: kDays, xTicks: kDays, xDom: [1, 4], xRange: [554, 646], max: 2.5, y0: 668, yTop: 563.7,
  ax: 538.3, axEnd: 661.7, yTicks: kYTicks, yTickLabels: ['0.0','0.5','1.0','1.5','2.0','2.5'], tickSize: 6.2, lw: 0.9, cap: 1.8, ms: 1.8,
  series: [
    {name: 'vector', vals: kVector, errs: kVectorErr, color: LGRAY, marker: 'circle'},
    {name: 'pcdna-gltc', vals: kPcdna, errs: kPcdnaErr, color: LTEAL, marker: 'square'},
    {name: 'pcdna-gltc-delta3', vals: kDelta, errs: kDeltaErr, color: LRED, marker: 'triangle'}]});
drawLineChart({name: 'panel-l-time-chart', xs: lTimes, xTicks: lXTicks, xDom: [0, 100], xRange: [64.3, 196.7], max: 250, y0: 887.7, yTop: 786.3,
  ax: 64.3, axEnd: 196.7, yTicks: lYTicks, yTickLabels: lYTicks.map(String), tickSize: 8.2, lw: 1, cap: 2, ms: 2,
  series: [
    {name: 'vector', vals: lVector, errs: lVectorErr, color: LGRAY, marker: 'circle'},
    {name: 'pcdna-gltc', vals: lPcdna, errs: lPcdnaErr, color: LTEAL, marker: 'square'},
    {name: 'pcdna-gltc-delta3', vals: lDelta, errs: lDeltaErr, color: LRED, marker: 'triangle'}]});

// ---------- Grouped ECAR bars ----------
(function () {
  const g = drawGroup('panel-l-ecar-chart');
  const Y = linScale(0, 200, 888.3, 784);
  const groupX = linScale(0, 2, 281, 384.3);
  const offs = [-14.2, 0, 14.2];
  const series = [
    {name: 'vector', vals: ecarVector, errs: ecarVectorErr, fill: GRAY, err: LGRAY},
    {name: 'pcdna-gltc', vals: ecarPcdna, errs: ecarPcdnaErr, fill: TEAL, err: LTEAL},
    {name: 'pcdna-gltc-delta3', vals: ecarDelta, errs: ecarDeltaErr, fill: DRED, err: LRED}];
  series.forEach((s, si) => {
    s.vals.forEach((v, i) => {
      const cx = groupX(i) + offs[si];
      drawLine(g, 'error-bar', cx, Y(v), cx, Y(v + s.errs[i]), s.err, 1);
      drawLine(g, 'error-cap', cx - 2.8, Y(v + s.errs[i]), cx + 2.8, Y(v + s.errs[i]), s.err, 1);
      const r = make('rect', {x: cx - 5.35, y: Y(v), width: 10.7, height: Y(0) - Y(v), fill: s.fill}, g);
      
      
    });
  });
  ecarCats.forEach((cat, i) => {
    drawLine(g, 'x-tick', groupX(i), Y(0), groupX(i), Y(0) + 2, '#222', 0.8);
    drawText(g, 'x-tick-label', groupX(i) + 3, Y(0) + 6, cat, 7.2, 'end', true, -45);
  });
  drawLine(g, 'x-axis-line', 254, Y(0), 410.7, Y(0), '#222', 0.9);
  drawYAxis(g, 254, ecarYTicks, ecarYTicks.map(String), Y, {size: 6.2, tl: 3.5});
  const X = k => 267 + k;
  [
    {a: 0, b: 14, top: 839.7, l: 865, r: 842.3, t: '**'},
    {a: 14, b: 28.3, top: 831.7, l: 835, r: 862.3, t: '*'},
    {a: 51.7, b: 66, top: 803.3, l: 833.3, r: 805.7, t: '*'},
    {a: 66, b: 80, top: 797, l: 801, r: 828.3, t: '**'},
    {a: 103.3, b: 117.3, top: 845, l: 857.7, r: 847.7, t: '*'},
    {a: 117.3, b: 131.7, top: 836.7, l: 840, r: 855.7, t: '*'}
  ].forEach(b => drawBracket(g, b, X));
})();
</script>
</body></html>
